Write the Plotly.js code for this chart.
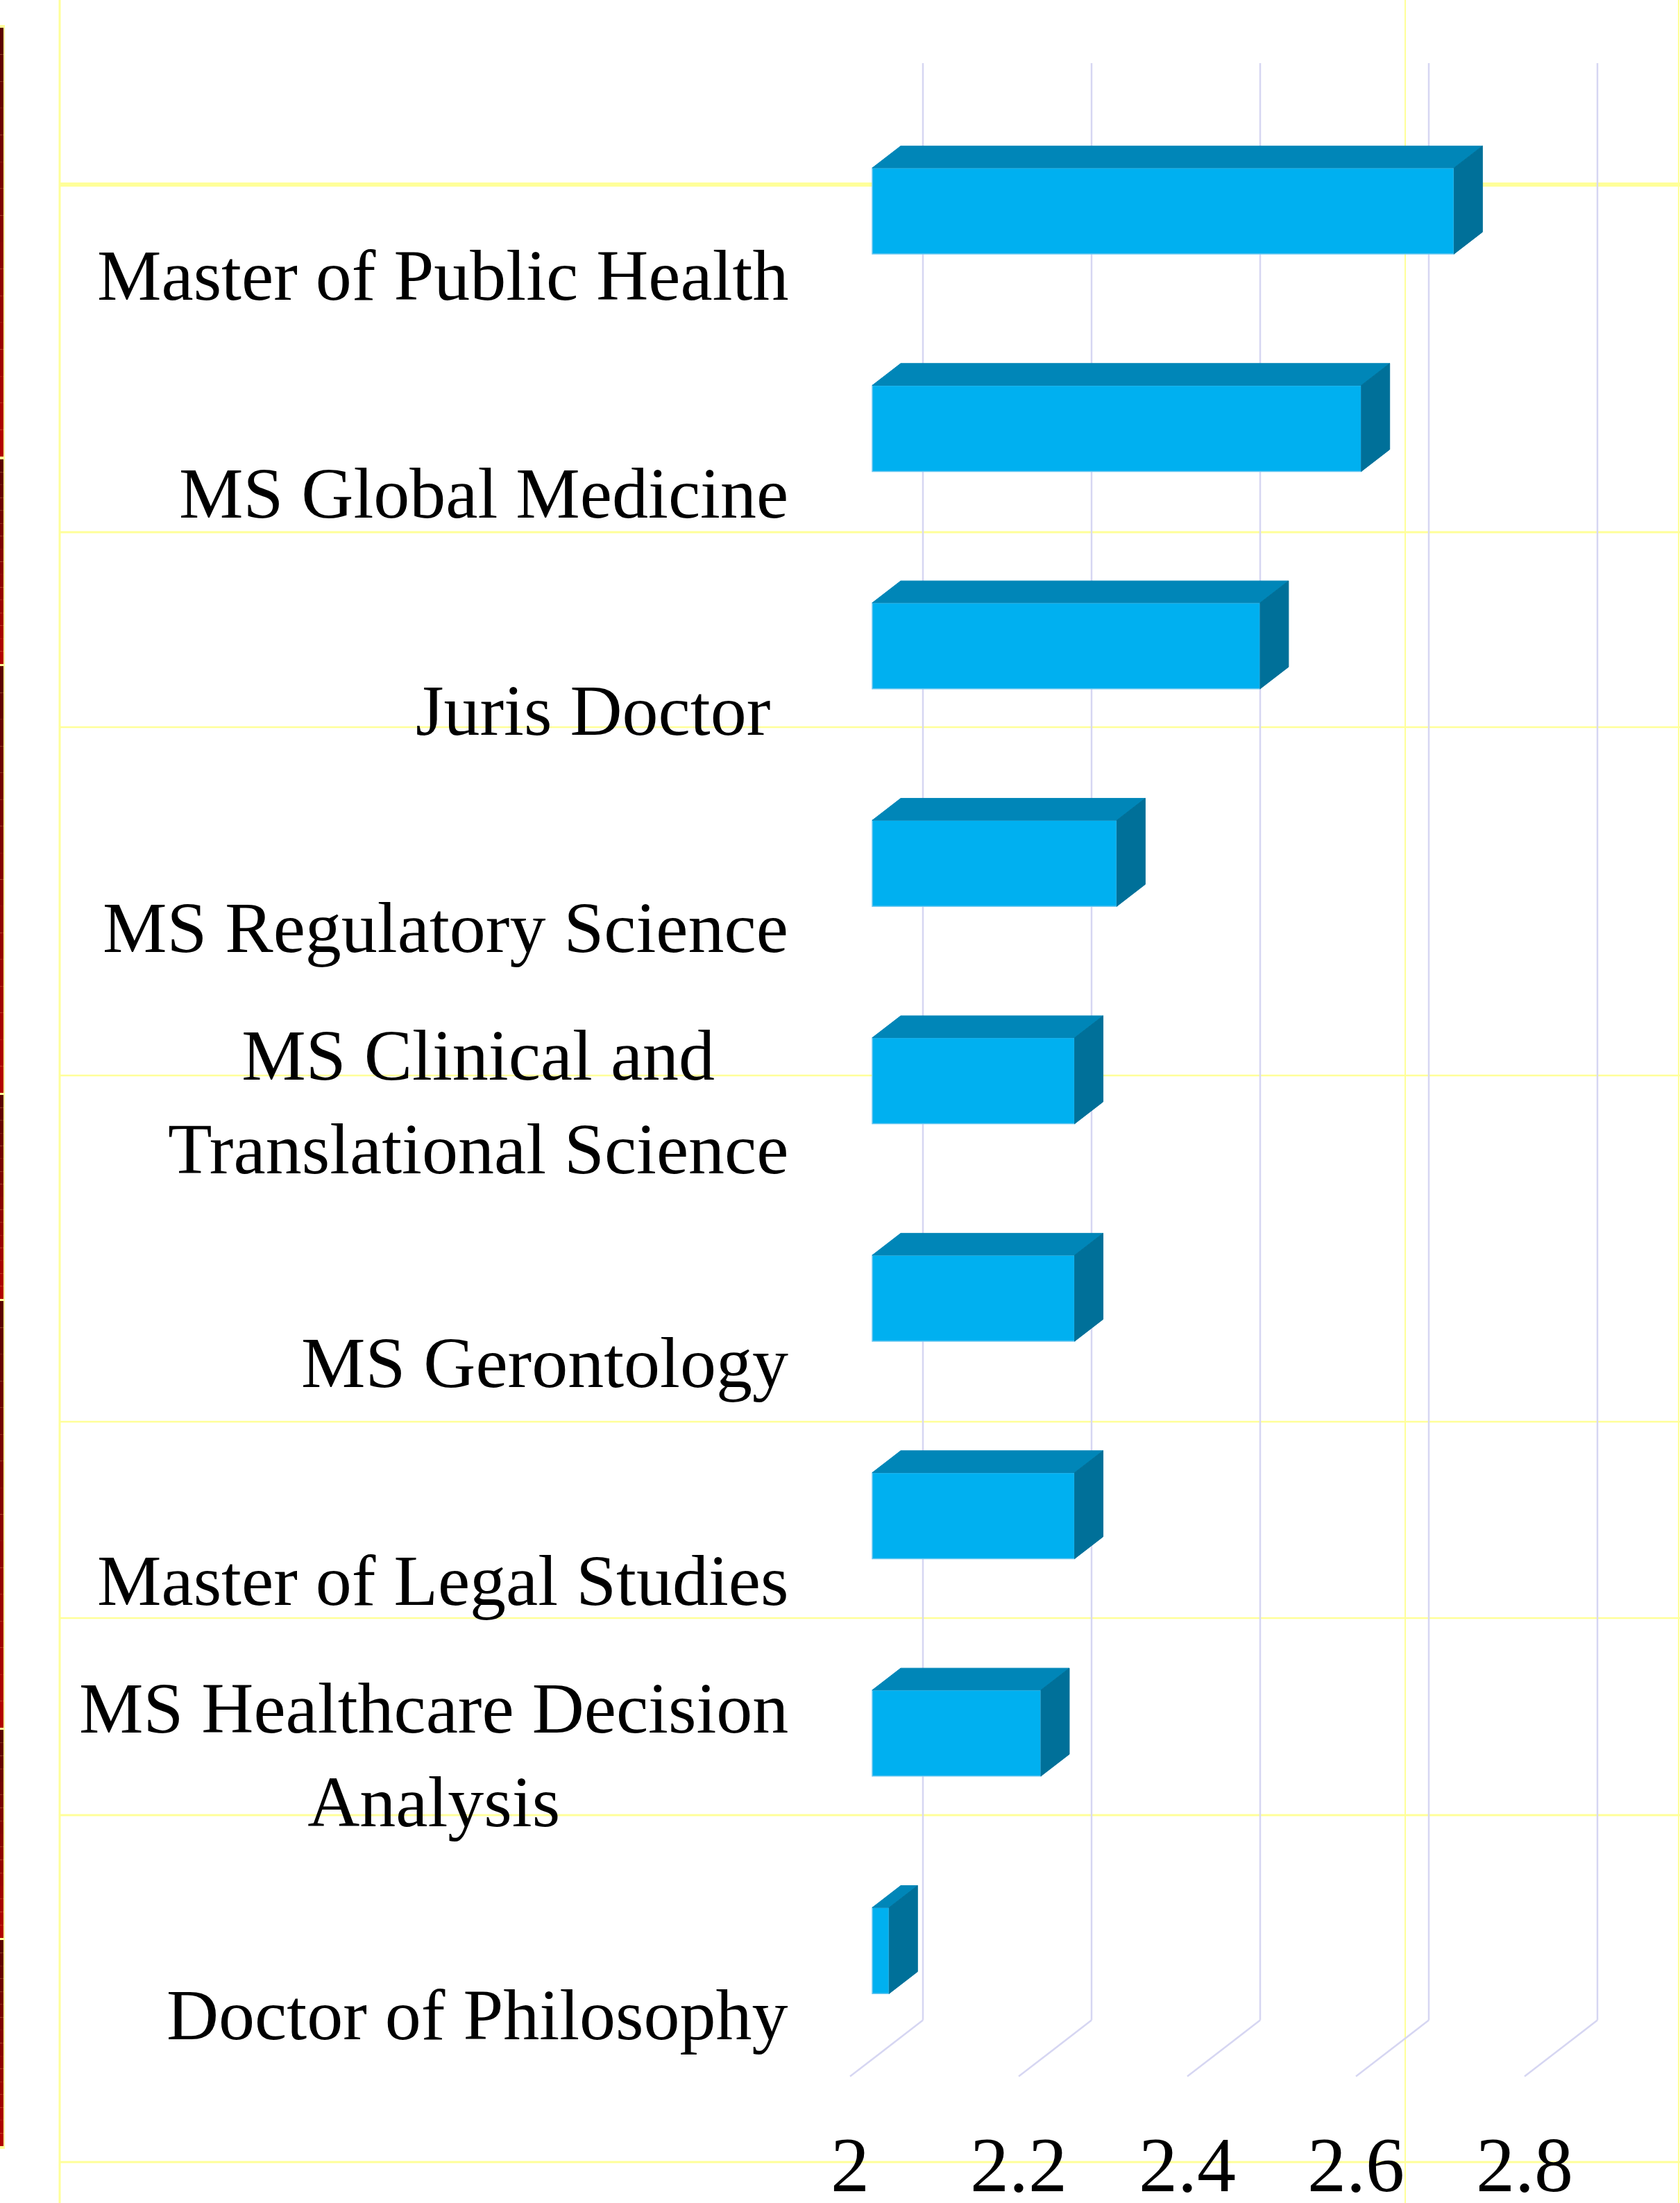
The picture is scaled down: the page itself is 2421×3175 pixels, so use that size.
<!DOCTYPE html>
<html><head><meta charset="utf-8">
<script src="https://cdn.plot.ly/plotly-3.0.1.min.js"></script>
<style>html,body{margin:0;padding:0;background:#fff;}#chart{width:2421px;height:3175px;}</style>
</head><body><div id="chart"></div>
<script>
// ---- data ----
const categories = ["Master of Public Health","MS Global Medicine","Juris Doctor\u00a0","MS Regulatory Science","MS Clinical and<br>Translational Science","MS Gerontology","Master of Legal Studies","MS Healthcare Decision<br>Analysis","Doctor of Philosophy"];
const values = [2.69, 2.58, 2.46, 2.29, 2.24, 2.24, 2.24, 2.20, 2.02];
const tickValues = [2, 2.2, 2.4, 2.6, 2.8];
const tickLabels = ["2", "2.2", "2.4", "2.6", "2.8"];

// ---- layout constants ----
const W = 2421, H = 3175, B = 130, P = H - B;
const PX_PER_X = 1215, X2_PX = 1225;       // front plane: px of value 2
const PX_PER_CAT = 313.4, C0_PX = 328.7;    // front plane: px of first category
const DX_PX = 105, DY_PX = 81;              // 3D depth offset
const BASE = 2;
const xr = [BASE - X2_PX / PX_PER_X, BASE + (W - X2_PX) / PX_PER_X];
const yr = [(P - C0_PX) / PX_PER_CAT, -C0_PX / PX_PER_CAT];
const DX = DX_PX / PX_PER_X, DY = DY_PX / PX_PER_CAT;
const Z1 = 0.305, Z2 = 0.695, HALF = 62 / PX_PER_CAT;
const FRONT = "rgb(0,176,240)", TOP = "rgb(0,134,184)", SIDE = "rgb(0,112,153)";
const GRID = "rgb(214,214,242)", YEL = "#FFFF99";
const FONT = "Liberation Serif, Times New Roman, serif";

const idx = categories.map((_, i) => i);
const proj = (x, c, z) => [x + z * DX, c - z * DY];

const traces = [];
// front faces: real bar trace
traces.push({
  type: "bar", orientation: "h",
  y: idx.map(i => i - Z1 * DY),
  x: values.map(v => v - BASE),
  base: BASE + Z1 * DX,
  width: 2 * HALF,
  marker: {color: FRONT, line: {color: "rgb(110,200,240)", width: 1.5}},
  hoverinfo: "skip", showlegend: false
});
// top and side faces derived from the values
values.forEach((v, i) => {
  const t = [proj(BASE, i - HALF, Z1), proj(v, i - HALF, Z1), proj(v, i - HALF, Z2), proj(BASE, i - HALF, Z2)];
  traces.push({type: "scatter", mode: "lines", fill: "toself", fillcolor: TOP,
    x: t.map(p => p[0]).concat([t[0][0]]), y: t.map(p => p[1]).concat([t[0][1]]),
    line: {color: TOP, width: 1}, hoverinfo: "skip", showlegend: false});
  const s = [proj(v, i - HALF, Z1), proj(v, i + HALF, Z1), proj(v, i + HALF, Z2), proj(v, i - HALF, Z2)];
  traces.push({type: "scatter", mode: "lines", fill: "toself", fillcolor: SIDE,
    x: s.map(p => p[0]).concat([s[0][0]]), y: s.map(p => p[1]).concat([s[0][1]]),
    line: {color: SIDE, width: 1}, hoverinfo: "skip", showlegend: false});
});

const shapes = [];
const px2x = px => px / W;
const py2y = py => (P - py) / P;
// slide decoration: yellow table lines
[[86, 3], [2025, 2], [2419, 2]].forEach(([x, w]) => shapes.push({type: "line", layer: "below", xref: "paper", yref: "paper",
  x0: px2x(x), x1: px2x(x), y0: py2y(0), y1: py2y(H), line: {color: YEL, width: w}}));
[[266, 6], [767, 3], [1048, 2.5], [1550, 2.5], [2049, 2.5], [2332, 2.5], [2616, 3], [3116, 3]].forEach(([y, w]) => shapes.push({type: "line", layer: "below", xref: "paper", yref: "paper",
  x0: px2x(86), x1: px2x(W), y0: py2y(y), y1: py2y(y), line: {color: YEL, width: w}}));
// left red strip with gradient segments
shapes.push({type: "rect", layer: "below", xref: "paper", yref: "paper", x0: px2x(0), x1: px2x(7), y0: py2y(36), y1: py2y(3097), fillcolor: "#FFFF99", line: {width: 0}});
[[40, 658], [662, 957], [960, 1575], [1578, 1872], [1875, 2490], [2493, 2793], [2796, 3093]].forEach(([a, b]) => {
  const n = 16;
  for (let k = 0; k < n; k++) {
    const f = k / (n - 1);
    const r = Math.round(92 + f * (178 - 92));
    shapes.push({type: "rect", layer: "below", xref: "paper", yref: "paper",
      x0: px2x(0), x1: px2x(5), y0: py2y(a + (b - a) * k / n), y1: py2y(a + (b - a) * (k + 1) / n),
      fillcolor: `rgb(${r},0,0)`, line: {width: 0}});
  }
});
// back wall gridlines and floor lines at tick values
const cTop = -0.5, cBot = categories.length - 0.5;
tickValues.forEach(v => {
  shapes.push({type: "line", layer: "below", xref: "x", yref: "y", x0: v + DX, x1: v + DX, y0: cBot - DY, y1: cTop - DY, line: {color: GRID, width: 2.5}});
  shapes.push({type: "line", layer: "below", xref: "x", yref: "y", x0: v, x1: v + DX, y0: cBot, y1: cBot - DY, line: {color: GRID, width: 2.5}});
});

// category labels
const annotations = categories.map((c, i) => {
  const n = c.split("<br>").length;
  return {xref: "paper", yref: "y", x: px2x(1138), y: i, xanchor: "right", yanchor: "middle",
    yshift: -(68 - (n - 1) * 62), text: c, showarrow: false, align: "center",
    font: {family: FONT, size: 104, color: "#000"}};
});

const layout = {
  width: W, height: H,
  margin: {l: 0, r: 0, t: 0, b: B, pad: 0},
  paper_bgcolor: "#fff", plot_bgcolor: "rgba(0,0,0,0)",
  showlegend: false, barmode: "overlay",
  xaxis: {range: xr, tickvals: tickValues, ticktext: tickLabels, showgrid: false, zeroline: false, showline: false, ticks: "",
    tickfont: {family: FONT, size: 112, color: "#000"}, fixedrange: true},
  yaxis: {range: yr, showgrid: false, zeroline: false, showline: false, showticklabels: false, ticks: "", fixedrange: true},
  shapes, annotations
};
Plotly.newPlot("chart", traces, layout, {displayModeBar: false, staticPlot: true});
</script></body></html>
